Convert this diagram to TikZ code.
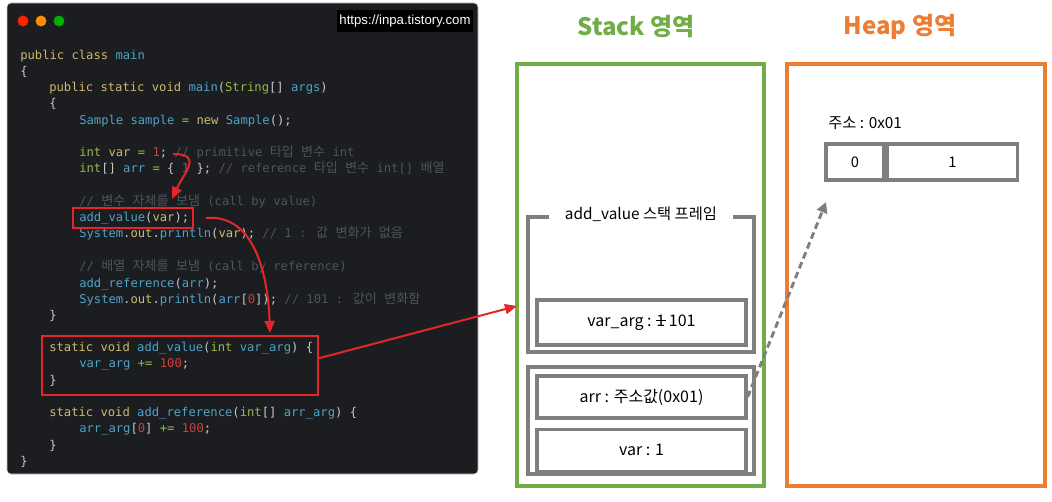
\documentclass[tikz,border=0pt]{standalone}
\usepackage{fontspec}
\usetikzlibrary{arrows.meta,positioning}
\newfontfamily\codefont{DejaVu Sans Mono}
\newfontfamily\krfont{Noto Sans CJK KR}
\newfontfamily\urlfont{Liberation Sans}
\definecolor{codebg}{HTML}{1B1D20}
\definecolor{codekw}{HTML}{CDB96C}
\definecolor{codety}{HTML}{97B94A}
\definecolor{codeid}{HTML}{4DA3C8}
\definecolor{codenum}{HTML}{C9403C}
\definecolor{codepu}{HTML}{C8C8C8}
\definecolor{codecom}{HTML}{4E545A}
\definecolor{hired}{HTML}{E3262A}
\definecolor{boxgray}{HTML}{7F7F7F}
\definecolor{stackgreen}{HTML}{70AD47}
\definecolor{heaporange}{HTML}{ED7D31}
\newcommand\ckw[1]{\textcolor{codekw}{#1}}
\newcommand\cty[1]{\textcolor{codety}{#1}}
\newcommand\cid[1]{\textcolor{codeid}{#1}}
\newcommand\cnum[1]{\textcolor{codenum}{#1}}
\newcommand\cpu[1]{\textcolor{codepu}{#1}}
\newcommand\ccom[1]{\textcolor{codecom}{#1}}
\newcommand\hg[1]{{\krfont\fontsize{9.8}{11}\selectfont #1}}
\newcommand\strk[1]{\ooalign{#1\cr\hidewidth\rule[0.32em]{0.62em}{0.07em}\hidewidth\cr}}

\begin{document}
\begin{tikzpicture}[x=0.75pt,y=-0.75pt,
  code/.style={font={\codefont\fontsize{9.13}{11}\selectfont},anchor=base west,inner sep=0pt,text=codepu},
  callout/.style={draw=hired,line width=1.5pt,inner sep=0pt},
  callarrow/.style={draw=hired,line width=1.5pt,-{Triangle[length=9pt,width=7.5pt]}},
  refarrow/.style={draw=boxgray,line width=2.2pt,dash pattern=on 5pt off 3pt,-{Triangle[length=8pt,width=8pt]}},
  region/.style={line width=2.4pt,inner sep=0pt},
  cell/.style={draw=boxgray,line width=2.4pt,inner sep=0pt,font={\krfont\fontsize{12}{14}\selectfont}},
  title/.style={font={\krfont\bfseries\fontsize{18}{21}\selectfont},inner sep=0pt}]
\useasboundingbox (0,0) rectangle (1052,502);

% code window
\fill[codebg,draw=gray!40,rounded corners=3pt] (7,3) rectangle (478,474);
\fill[red!75!orange] (23,21) circle (4.1pt);
\fill[orange!90!yellow] (41,21) circle (4.1pt);
\fill[green!70!black] (59,21) circle (4.1pt);
\node[fill=black,text=white,font={\urlfont\fontsize{9.9}{11}\selectfont},minimum height=14.25pt,inner xsep=2pt] (url) at (405,21) {https://inpa.tistory.com};

\node[code] (c1) at (20,60) {\ckw{public class} \cid{main}};
\node[code] (c2) at (20,76) {\{};
\node[code] (c3) at (49,92) {\ckw{public static void} \cid{main}(\cty{String}[] \cid{args})};
\node[code] (c4) at (49,108) {\{};
\node[code] (c5) at (79,125) {\cid{Sample sample} \cty{=} \ckw{new} \cid{Sample}();};
\node[code] (c6) at (79,157) {\cty{int} \ckw{var} \cty{=} \cnum{1}; \ccom{// primitive \hg{타입} \hg{변수} int}};
\node[code] (c7) at (79,173) {\cty{int}[] \cid{arr} \cty{=} \{ \cnum{1} \}; \ccom{// reference \hg{타입} \hg{변수} int[] \hg{배열}}};
\node[code] (c8) at (79,206) {\ccom{// \hg{변수} \hg{자체를} \hg{보냄} (call by value)}};
\node[code] (c9) at (79,222) {\cid{add\_value}(\ckw{var});};
\node[code] (c10) at (79,238) {\cid{System}.\ckw{out}.\cid{println}(\ckw{var}); \ccom{// 1 : \hg{값} \hg{변화가} \hg{없음}}};
\node[code] (c11) at (79,271) {\ccom{// \hg{배열} \hg{자체를} \hg{보냄} (call by reference)}};
\node[code] (c12) at (79,287) {\cid{add\_reference}(\cid{arr});};
\node[code] (c13) at (79,303) {\cid{System}.\ckw{out}.\cid{println}(\cid{arr}[\cnum{0}]); \ccom{// 101 : \hg{값이} \hg{변화함}}};
\node[code] (c14) at (49,319) {\}};
\node[code] (c15) at (49,351) {\ckw{static void} \cid{add\_value}(\cty{int} \cid{var\_arg}) \{};
\node[code] (c16) at (79,367) {\cid{var\_arg} \cty{+=} \cnum{100};};
\node[code] (c17) at (49,384) {\}};
\node[code] (c18) at (49,416) {\ckw{static void} \cid{add\_reference}(\cty{int}[] \cid{arr\_arg}) \{};
\node[code] (c19) at (79,432) {\cid{arr\_arg}[\cnum{0}] \cty{+=} \cnum{100};};
\node[code] (c20) at (49,449) {\}};
\node[code] (c21) at (20,465) {\}};

% highlights
\node[callout,minimum width=90pt,minimum height=15pt] (callbox) at (133,218) {};
\node[callout,minimum width=207pt,minimum height=44.25pt] (fnbox) at (180,365.5) {};

% memory regions
\node[region,draw=stackgreen,minimum width=185.25pt,minimum height=316.5pt] (stack) at (640.5,275) {};
\node[region,draw=heaporange,minimum width=193.5pt,minimum height=316.5pt] (heap) at (916,275) {};
\node[title,text=stackgreen] (stacktitle) at (636,27) {Stack 영역};
\node[title,text=heaporange] (heaptitle) at (900,27) {Heap 영역};

% stack frames
\node[cell,minimum width=169.5pt,minimum height=101.25pt] (frame) at (641,284.5) {};
\node[fill=white,inner sep=0pt,minimum width=138pt,minimum height=12pt,font={\krfont\fontsize{11.5}{13}\selectfont}] (frametitle) at (641,214) {add\_value 스택 프레임};
\node[cell,minimum width=156.75pt,minimum height=33.75pt] (argbox) at (641.5,322.5) {var\_arg : \strk{1} 101};
\node[cell,minimum width=169.5pt,minimum height=80.25pt] (mainframe) at (641,420.5) {};
\node[cell,minimum width=156.75pt,minimum height=31.5pt] (arrbox) at (641.5,397) {arr : 주소값(0x01)};
\node[cell,minimum width=156.75pt,minimum height=31.5pt,below=6pt of arrbox] (varbox) {var : 1};

% heap array
\node[anchor=west,inner sep=0pt,font={\krfont\fontsize{11.5}{13}\selectfont}] (addr) at (828,123) {주소 : 0x01};
\node[cell,minimum width=43.5pt,minimum height=27pt,font={\krfont\fontsize{11}{12}\selectfont}] (cell0) at (855,162) {0};
\node[cell,minimum width=98pt,minimum height=27pt,font={\krfont\fontsize{11}{12}\selectfont},right=0pt of cell0] (cell1) {1};

% connectors
\coordinate (init) at (173,154);
\coordinate (callin) at (172,199);
\coordinate (fnin) at (270,333);
\coordinate (stackin) at (517,306);
\coordinate (heapin) at (826,202);
\draw[callarrow] (init) to[out=0,in=65,looseness=1.7] (callin);
\draw[callarrow] ([xshift=9pt]callbox.east) to[out=5,in=92] (fnin);
\draw[callarrow] (fnbox.3) -- (stackin);
\draw[refarrow] (arrbox.east) -- (heapin);
\end{tikzpicture}
\end{document}
